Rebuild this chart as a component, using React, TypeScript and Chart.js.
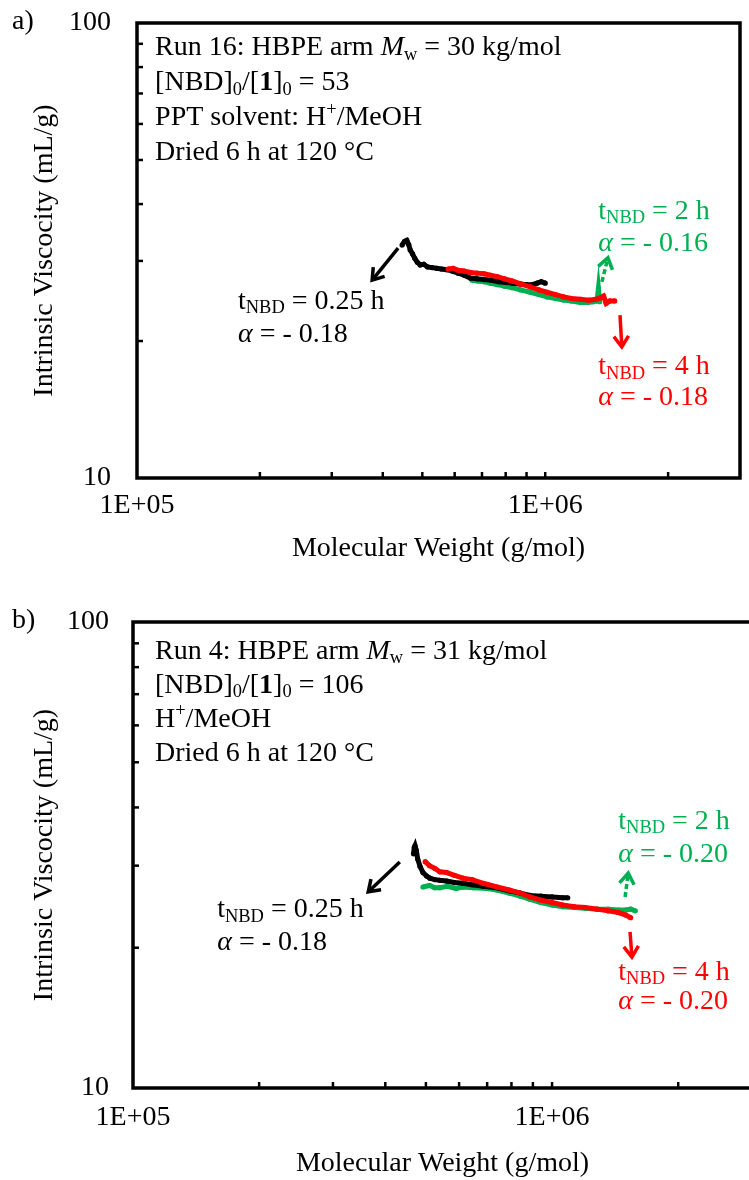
import React, { useEffect, useRef } from 'react';
import { Chart, registerables } from 'chart.js';

Chart.register(...registerables);

const SERIF = '"Liberation Serif", "Times New Roman", Times, serif';
const FS = 28;
const BLACK = '#000000';
const RED = '#FF0000';
const GREEN = '#00B050';

// ---- axes ----
const xTickValues = [1e5, 2e5, 3e5, 4e5, 5e5, 6e5, 7e5, 8e5, 9e5, 1e6, 2e6, 3e6];
const yTickValues = [10, 20, 30, 40, 50, 60, 70, 80, 90, 100];
const xLabelValues = [1e5, 1e6];
const xLabelTexts = ['1E+05', '1E+06'];
const yLabelValues = [10, 100];
const yLabelTexts = ['10', '100'];
const xTitle = 'Molecular Weight (g/mol)';
const yTitle = 'Intrinsic Viscocity (mL/g)';

// ---- panel a data ----
const aBlackMw = [4.46e5, 4.52e5, 4.58e5, 4.63e5, 4.67e5, 4.73e5, 4.79e5, 4.86e5, 4.94e5, 5.04e5, 5.15e5, 5.28e5, 5.42e5, 5.57e5, 5.74e5, 5.92e5, 6.12e5, 6.33e5, 6.55e5, 6.8e5, 7.08e5, 7.38e5, 7.7e5, 8.02e5, 8.35e5, 8.68e5, 9.0e5, 9.3e5, 9.55e5, 9.78e5, 1.0e6];
const aBlackEta = [32.5, 33.1, 33.3, 32.6, 31.7, 31.1, 30.4, 29.8, 29.4, 29.5, 29.1, 29.0, 28.9, 28.8, 28.7, 28.5, 28.2, 27.9, 27.5, 27.4, 27.3, 27.2, 27.0, 26.9, 26.8, 26.7, 26.6, 26.6, 26.8, 27.0, 26.8];
const aRedMw = [5.78e5, 5.95e5, 6.12e5, 6.33e5, 6.55e5, 6.8e5, 7.08e5, 7.35e5, 7.63e5, 7.95e5, 8.3e5, 8.7e5, 9.19e5, 9.65e5, 1.01e6, 1.06e6, 1.11e6, 1.16e6, 1.22e6, 1.28e6, 1.33e6, 1.37e6, 1.39e6, 1.41e6, 1.44e6, 1.48e6];
const aRedEta = [28.8, 28.9, 28.6, 28.5, 28.3, 28.2, 28.1, 27.9, 27.7, 27.4, 27.1, 26.7, 26.3, 25.9, 25.6, 25.3, 25.0, 24.8, 24.7, 24.6, 24.7, 24.9, 25.1, 24.2, 24.5, 24.5];
const aGreenMw = [6.62e5, 6.85e5, 7.1e5, 7.35e5, 7.63e5, 7.95e5, 8.3e5, 8.7e5, 9.19e5, 9.65e5, 1.01e6, 1.06e6, 1.11e6, 1.16e6, 1.22e6, 1.27e6, 1.31e6, 1.34e6, 1.35e6, 1.36e6];
const aGreenEta = [27.2, 27.1, 27.0, 26.8, 26.6, 26.4, 26.2, 25.9, 25.6, 25.3, 25.0, 24.8, 24.6, 24.5, 24.3, 24.3, 24.4, 24.5, 26.1, 24.4];

// ---- panel b data ----
const bBlackMw = [4.67e5, 4.69e5, 4.71e5, 4.74e5, 4.78e5, 4.84e5, 4.92e5, 5.02e5, 5.11e5, 5.25e5, 5.4e5, 5.6e5, 5.85e5, 6.13e5, 6.45e5, 6.85e5, 7.39e5, 7.9e5, 8.4e5, 8.86e5, 9.4e5, 1.0e6, 1.06e6, 1.09e6];
const bBlackEta = [31.8, 32.8, 33.1, 32.4, 31.0, 29.9, 29.0, 28.5, 28.2, 28.0, 27.9, 27.8, 27.6, 27.5, 27.3, 27.1, 26.9, 26.5, 26.2, 25.9, 25.8, 25.7, 25.6, 25.6];
const bRedMw = [4.98e5, 5.1e5, 5.25e5, 5.4e5, 5.6e5, 5.85e5, 6.13e5, 6.45e5, 6.85e5, 7.39e5, 7.9e5, 8.4e5, 8.86e5, 9.4e5, 1.0e6, 1.06e6, 1.13e6, 1.2e6, 1.28e6, 1.36e6, 1.44e6, 1.5e6, 1.54e6];
const bRedEta = [30.6, 30.0, 29.6, 29.1, 29.0, 28.6, 28.2, 28.0, 27.5, 27.0, 26.6, 26.2, 25.7, 25.3, 25.0, 24.7, 24.5, 24.4, 24.2, 24.0, 23.8, 23.5, 23.2];
const bGreenMw = [4.92e5, 5.1e5, 5.25e5, 5.4e5, 5.62e5, 5.9e5, 6.13e5, 6.5e5, 7.0e5, 7.39e5, 7.9e5, 8.4e5, 8.86e5, 9.4e5, 1.0e6, 1.06e6, 1.13e6, 1.2e6, 1.28e6, 1.36e6, 1.44e6, 1.5e6, 1.54e6, 1.58e6];
const bGreenEta = [27.0, 27.2, 26.9, 26.9, 27.1, 26.8, 27.0, 26.9, 26.8, 26.6, 26.2, 25.8, 25.4, 25.0, 24.7, 24.5, 24.4, 24.3, 24.2, 24.2, 24.1, 24.1, 24.2, 24.0];

type Seg = { t: string; it?: boolean; b?: boolean; sub?: boolean; sup?: boolean };

const tLine = (h: string): Seg[] => [{ t: 't' }, { t: 'NBD', sub: true }, { t: ' = ' + h }];
const alphaLine = (a: string): Seg[] => [{ t: 'α', it: true }, { t: ' = ' + a }];

const aBoxLines: Seg[][] = [
  [{ t: 'Run 16: HBPE arm ' }, { t: 'M', it: true }, { t: 'w', sub: true }, { t: ' = 30 kg/mol' }],
  [{ t: '[NBD]' }, { t: '0', sub: true }, { t: '/[' }, { t: '1', b: true }, { t: ']' }, { t: '0', sub: true }, { t: ' = 53' }],
  [{ t: 'PPT solvent: H' }, { t: '+', sup: true }, { t: '/MeOH' }],
  [{ t: 'Dried 6 h at 120 °C' }],
];
const bBoxLines: Seg[][] = [
  [{ t: 'Run 4: HBPE arm ' }, { t: 'M', it: true }, { t: 'w', sub: true }, { t: ' = 31 kg/mol' }],
  [{ t: '[NBD]' }, { t: '0', sub: true }, { t: '/[' }, { t: '1', b: true }, { t: ']' }, { t: '0', sub: true }, { t: ' = 106' }],
  [{ t: 'H' }, { t: '+', sup: true }, { t: '/MeOH' }],
  [{ t: 'Dried 6 h at 120 °C' }],
];

type Note = { color: string; fx: number; fy: number[]; lines: Seg[][]; from: number[]; to: number[]; dashed?: boolean };

const aNotes: Note[] = [
  { color: BLACK, fx: 0.1675, fy: [0.613, 0.686], lines: [tLine('0.25 h'), alphaLine('- 0.18')], from: [0.433, 0.495], to: [0.39, 0.565] },
  { color: GREEN, fx: 0.765, fy: [0.415, 0.484], lines: [tLine('2 h'), alphaLine('- 0.16')], from: [0.771, 0.569], to: [0.781, 0.516], dashed: true },
  { color: RED, fx: 0.765, fy: [0.756, 0.824], lines: [tLine('4 h'), alphaLine('- 0.18')], from: [0.801, 0.642], to: [0.804, 0.712] },
];
const bNotes: Note[] = [
  { color: BLACK, fx: 0.136, fy: [0.618, 0.689], lines: [tLine('0.25 h'), alphaLine('- 0.18')], from: [0.431, 0.515], to: [0.38, 0.579] },
  { color: GREEN, fx: 0.784, fy: [0.429, 0.5], lines: [tLine('2 h'), alphaLine('- 0.20')], from: [0.795, 0.59], to: [0.8, 0.539], dashed: true },
  { color: RED, fx: 0.784, fy: [0.753, 0.815], lines: [tLine('4 h'), alphaLine('- 0.20')], from: [0.803, 0.665], to: [0.806, 0.719] },
];

type Spec = {
  letter: string; top: number; canvasW: number; canvasH: number;
  padTop: number; padRight: number; yAxisW: number; xAxisH: number;
  yTickPad: number; xTickPad: number; xTitlePadBottom: number; yTitlePadTop: number;
  boxFx: number; boxFy: number[]; boxLines: Seg[][]; notes: Note[];
  black: [number[], number[]]; red: [number[], number[]]; green: [number[], number[]];
};

const panelA: Spec = {
  letter: 'a)', top: 0, canvasW: 749, canvasH: 590,
  padTop: 23, padRight: 9, yAxisW: 137, xAxisH: 112,
  yTickPad: 26, xTickPad: 11, xTitlePadBottom: 25, yTitlePadTop: 28,
  boxFx: 0.03, boxFy: [0.055, 0.132, 0.209, 0.286], boxLines: aBoxLines, notes: aNotes,
  black: [aBlackMw, aBlackEta], red: [aRedMw, aRedEta], green: [aGreenMw, aGreenEta],
};
const panelB: Spec = {
  letter: 'b)', top: 590, canvasW: 760, canvasH: 590,
  padTop: 32, padRight: 8, yAxisW: 133, xAxisH: 92,
  yTickPad: 24, xTickPad: 13, xTitlePadBottom: 0, yTitlePadTop: 28,
  boxFx: 0.0355, boxFy: [0.064, 0.137, 0.21, 0.283], boxLines: bBoxLines, notes: bNotes,
  black: [bBlackMw, bBlackEta], red: [bRedMw, bRedEta], green: [bGreenMw, bGreenEta],
};

function drawRich(ctx: CanvasRenderingContext2D, segs: Seg[], x: number, y: number, size: number, color: string) {
  ctx.save();
  ctx.fillStyle = color;
  ctx.textBaseline = 'middle';
  ctx.textAlign = 'left';
  let cx = x;
  for (const s of segs) {
    const fs = s.sub || s.sup ? size * 0.66 : size;
    ctx.font = `${s.it ? 'italic ' : ''}${s.b ? 'bold ' : ''}${fs}px ${SERIF}`;
    const dy = s.sub ? size * 0.24 : s.sup ? -size * 0.3 : 0;
    ctx.fillText(s.t, cx, y + dy);
    cx += ctx.measureText(s.t).width;
  }
  ctx.restore();
}

function drawArrow(ctx: CanvasRenderingContext2D, x1: number, y1: number, x2: number, y2: number, color: string, dashed?: boolean) {
  const ang = Math.atan2(y2 - y1, x2 - x1);
  const head = 13;
  ctx.save();
  ctx.strokeStyle = color;
  ctx.lineWidth = 3.5;
  ctx.lineCap = 'butt';
  if (dashed) ctx.setLineDash([5, 3]);
  ctx.beginPath();
  ctx.moveTo(x1, y1);
  ctx.lineTo(x2 - 2 * Math.cos(ang), y2 - 2 * Math.sin(ang));
  ctx.stroke();
  ctx.setLineDash([]);
  ctx.lineJoin = 'miter';
  ctx.beginPath();
  ctx.moveTo(x2 - head * Math.cos(ang - 0.6), y2 - head * Math.sin(ang - 0.6));
  ctx.lineTo(x2, y2);
  ctx.lineTo(x2 - head * Math.cos(ang + 0.6), y2 - head * Math.sin(ang + 0.6));
  ctx.stroke();
  ctx.restore();
}

function makeDecor(p: Spec) {
  return {
    id: 'decor',
    afterDatasetsDraw(chart: any) {
      const { ctx, chartArea: a, scales } = chart;
      const xs = scales.x;
      const ys = scales.y;
      const w = a.right - a.left;
      const h = a.bottom - a.top;
      ctx.save();
      ctx.strokeStyle = '#000';
      ctx.lineWidth = 2.5;
      for (const t of xs.ticks) {
        if (t.value <= xs.min * 1.0001 || t.value >= xs.max * 0.9999) continue;
        const px = xs.getPixelForValue(t.value);
        ctx.beginPath();
        ctx.moveTo(px, a.bottom);
        ctx.lineTo(px, a.bottom - 6);
        ctx.stroke();
      }
      for (const t of ys.ticks) {
        if (t.value <= ys.min * 1.0001 || t.value >= ys.max * 0.9999) continue;
        const py = ys.getPixelForValue(t.value);
        ctx.beginPath();
        ctx.moveTo(a.left, py);
        ctx.lineTo(a.left + 6, py);
        ctx.stroke();
      }
      ctx.lineWidth = 3.5;
      ctx.strokeRect(a.left, a.top, w, h);
      ctx.restore();

      // panel letter
      ctx.save();
      ctx.fillStyle = '#000';
      ctx.font = `${FS}px ${SERIF}`;
      ctx.textBaseline = 'middle';
      ctx.textAlign = 'left';
      ctx.fillText(p.letter, 12, a.top - 1);
      ctx.restore();

      // info box text
      p.boxLines.forEach((ln, i) => drawRich(ctx, ln, a.left + p.boxFx * w, a.top + p.boxFy[i] * h, FS, '#000'));

      // annotations
      for (const n of p.notes) {
        drawArrow(ctx, a.left + n.from[0] * w, a.top + n.from[1] * h, a.left + n.to[0] * w, a.top + n.to[1] * h, n.color, n.dashed);
        n.lines.forEach((ln, i) => drawRich(ctx, ln, a.left + n.fx * w, a.top + n.fy[i] * h, FS, n.color));
      }
    },
  };
}

const pts = (mw: number[], eta: number[]) => mw.map((m, i) => ({ x: m, y: eta[i] }));
const findLabel = (vals: number[], texts: string[], v: number) => {
  const i = vals.findIndex((t) => Math.abs(Math.log10(t) - Math.log10(v)) < 1e-6);
  return i >= 0 ? texts[i] : '';
};

function Panel({ spec }: { spec: Spec }) {
  const ref = useRef<HTMLCanvasElement>(null);
  useEffect(() => {
    const series = (data: [number[], number[]], color: string, order: number) => ({
      data: pts(data[0], data[1]),
      borderColor: color,
      backgroundColor: color,
      borderWidth: 5,
      pointRadius: 2.6,
      pointBorderWidth: 0,
      pointBackgroundColor: color,
      tension: 0,
      order,
    });
    const chart = new Chart(ref.current as HTMLCanvasElement, {
      type: 'line',
      data: {
        datasets: [
          series(spec.red, RED, 0),
          series(spec.black, BLACK, 1),
          series(spec.green, GREEN, 2),
        ] as any,
      },
      options: {
        responsive: false,
        animation: false,
        devicePixelRatio: 1,
        layout: { padding: { top: spec.padTop, right: spec.padRight, left: 0, bottom: 0 } },
        plugins: { legend: { display: false }, tooltip: { enabled: false } },
        scales: {
          x: {
            type: 'logarithmic',
            min: 1e5,
            max: 3e6,
            afterBuildTicks: (s: any) => { s.ticks = xTickValues.map((v) => ({ value: v })); },
            afterFit: (s: any) => { s.height = spec.xAxisH; s.paddingLeft = 0; s.paddingRight = 0; },
            grid: { display: false, drawTicks: false },
            border: { display: false },
            ticks: {
              autoSkip: false,
              maxRotation: 0,
              padding: spec.xTickPad,
              color: '#000',
              font: { family: SERIF, size: FS },
              callback: (v: any) => findLabel(xLabelValues, xLabelTexts, Number(v)),
            },
            title: { display: true, text: xTitle, color: '#000', font: { family: SERIF, size: FS }, padding: { top: 0, bottom: spec.xTitlePadBottom } },
          },
          y: {
            type: 'logarithmic',
            min: 10,
            max: 100,
            afterBuildTicks: (s: any) => { s.ticks = yTickValues.map((v) => ({ value: v })); },
            afterFit: (s: any) => { s.width = spec.yAxisW; s.paddingTop = 0; s.paddingBottom = 0; },
            grid: { display: false, drawTicks: false },
            border: { display: false },
            ticks: {
              autoSkip: false,
              padding: spec.yTickPad,
              color: '#000',
              font: { family: SERIF, size: FS },
              callback: (v: any) => findLabel(yLabelValues, yLabelTexts, Number(v)),
            },
            title: { display: true, text: yTitle, color: '#000', font: { family: SERIF, size: FS }, padding: { top: spec.yTitlePadTop, bottom: 0 } },
          },
        },
      } as any,
      plugins: [makeDecor(spec)],
    });
    return () => chart.destroy();
  }, [spec]);
  return (
    <canvas
      ref={ref}
      width={spec.canvasW}
      height={spec.canvasH}
      style={{ position: 'absolute', left: 0, top: spec.top, width: spec.canvasW + 'px', height: spec.canvasH + 'px' }}
    />
  );
}

export default function App() {
  return (
    <div style={{ position: 'absolute', left: 0, top: 0, width: 749, height: 1180, overflow: 'hidden', background: '#fff' }}>
      <Panel spec={panelA} />
      <Panel spec={panelB} />
    </div>
  );
}
